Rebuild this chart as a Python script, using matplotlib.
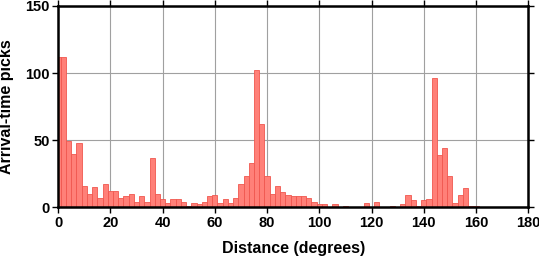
import numpy as np
import matplotlib.pyplot as plt

# bin centres (degrees), 2-degree bins
centres = np.arange(0, 180, 2)

# counts, one per bin from 0 to 178 degrees
counts = [
    112, 112, 49, 40, 48, 16, 10, 15, 7, 17,      # 0-18
    12, 12, 7, 8, 10, 4, 8, 4, 37, 10,            # 20-38
    6, 3, 6, 6, 4, 1, 3, 2, 4, 8,                 # 40-58
    9, 3, 6, 3, 7, 17, 23, 33, 102, 62,           # 60-78
    23, 10, 16, 11, 9, 8, 8, 8, 7, 4,             # 80-98
    2, 2, 0, 2, 0, 1, 0, 0, 0, 3,                 # 100-118
    0, 4, 0, 0, 1, 0, 2, 9, 5, 1,                 # 120-138
    5, 6, 96, 39, 44, 23, 3, 9, 14, 1,            # 140-158
    1, 0, 0, 0, 0, 0, 0, 0, 0, 0,                 # 160-178
]

xticks = [0, 20, 40, 60, 80, 100, 120, 140, 160, 180]
yticks = [0, 50, 100, 150]

plt.rcParams['font.family'] = ['Liberation Sans', 'DejaVu Sans']
plt.rcParams['font.weight'] = 'bold'

fig = plt.figure(figsize=(5.39, 2.58), dpi=100)
ax = fig.add_axes([0.108, 0.197, 0.872, 0.78])

ax.bar(centres, counts, width=2, align='center',
       facecolor='#ff8078', edgecolor='#f0574f', linewidth=0.6, zorder=2)

ax.set_xlim(0, 180)
ax.set_ylim(0, 150)
ax.set_xticks(xticks)
ax.set_yticks(yticks)
ax.grid(True, color='#a0a0a0', linewidth=0.8, zorder=0)
ax.set_axisbelow(True)

for s in ax.spines.values():
    s.set_linewidth(1.8)
    s.set_zorder(3)

ax.tick_params(direction='out', length=4, width=1.0, top=True, right=True,
               labelsize=10.5, pad=2)
for lab in ax.get_xticklabels() + ax.get_yticklabels():
    lab.set_fontweight('bold')

ax.set_xlabel('Distance (degrees)', fontsize=11.5, fontweight='bold', labelpad=8)
ax.set_ylabel('Arrival-time picks', fontsize=11.5, fontweight='bold', labelpad=8)

fig.savefig('out.png', dpi=100)
